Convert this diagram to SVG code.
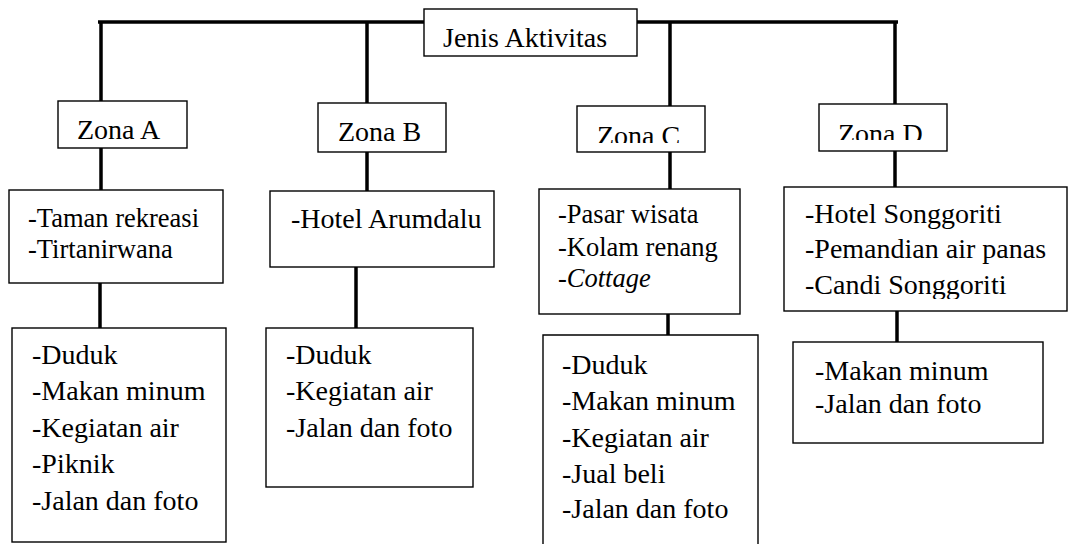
<svg xmlns="http://www.w3.org/2000/svg" width="1069" height="544" viewBox="0 0 1069 544" font-family="Liberation Serif, Times New Roman, serif">
<style>
.box{fill:#fff;stroke:#000;stroke-width:1.4}
.t{font-size:28px;fill:#000}
.s{font-size:26.5px}
.c{stroke:#000;stroke-width:3.5;fill:none}
</style>
<defs>
<clipPath id="clipC"><rect x="577" y="106" width="128" height="37"/></clipPath>
<clipPath id="clipD"><rect x="819" y="104" width="128" height="36"/></clipPath>
<clipPath id="clipD2"><rect x="784" y="187" width="283" height="112"/></clipPath>
</defs>
<rect width="1069" height="544" fill="#fff"/>
<g id="connectors">
<line class="c" x1="98" y1="22" x2="898" y2="22" stroke-width="4"/>
<line class="c" x1="101" y1="22" x2="101" y2="101"/>
<line class="c" x1="367" y1="22" x2="367" y2="103"/>
<line class="c" x1="670" y1="22" x2="670" y2="106"/>
<line class="c" x1="895" y1="22" x2="895" y2="104"/>
<line class="c" x1="101" y1="148" x2="101" y2="190"/>
<line class="c" x1="367" y1="152" x2="367" y2="191"/>
<line class="c" x1="670" y1="152" x2="670" y2="189"/>
<line class="c" x1="895" y1="151" x2="895" y2="187"/>
<line class="c" x1="100" y1="283" x2="100" y2="328"/>
<line class="c" x1="356" y1="267" x2="356" y2="328"/>
<line class="c" x1="668" y1="314" x2="668" y2="335"/>
<line class="c" x1="897" y1="311" x2="897" y2="342"/>
</g>
<g id="root">
<rect class="box" x="424" y="9" width="213" height="47"/>
<text class="t" x="443" y="47" font-size="29" font-family="Liberation Serif">Jenis Aktivitas</text>
</g>
<g id="zonaA">
<rect class="box" x="58" y="101" width="129" height="47"/>
<text class="t" x="77" y="139">Zona A</text>
</g>
<g id="zonaB">
<rect class="box" x="318" y="103" width="128" height="49"/>
<text class="t" x="338" y="141">Zona B</text>
</g>
<g id="zonaC">
<rect class="box" x="577" y="106" width="128" height="46"/>
<text class="t" x="597" y="145" clip-path="url(#clipC)">Zona C</text>
</g>
<g id="zonaD">
<rect class="box" x="819" y="104" width="128" height="47"/>
<text class="t" x="838" y="143" clip-path="url(#clipD)">Zona D</text>
</g>
<g id="lokasiA">
<rect class="box" x="9" y="190" width="214" height="93"/>
<text class="t s" x="28" y="227">-Taman rekreasi</text>
<text class="t s" x="28" y="258">-Tirtanirwana</text>
</g>
<g id="lokasiB">
<rect class="box" x="270" y="191" width="224" height="76"/>
<text class="t" x="291" y="228">-Hotel Arumdalu</text>
</g>
<g id="lokasiC">
<rect class="box" x="539" y="189" width="201" height="125"/>
<text class="t s" x="558" y="223">-Pasar wisata</text>
<text class="t s" x="558" y="256">-Kolam renang</text>
<text class="t s" x="558" y="287">-<tspan font-style="italic">Cottage</tspan></text>
</g>
<g id="lokasiD">
<rect class="box" x="784" y="187" width="283" height="124"/>
<text class="t" x="805" y="223">-Hotel Songgoriti</text>
<text class="t" x="805" y="258">-Pemandian air panas</text>
<text class="t" x="805" y="294" clip-path="url(#clipD2)">-Candi Songgoriti</text>
</g>
<g id="aktivitasA">
<rect class="box" x="12" y="328" width="214" height="214"/>
<text class="t" x="32" y="364">-Duduk</text>
<text class="t" x="32" y="400">-Makan minum</text>
<text class="t" x="32" y="437">-Kegiatan air</text>
<text class="t" x="32" y="473">-Piknik</text>
<text class="t" x="32" y="510">-Jalan dan foto</text>
</g>
<g id="aktivitasB">
<rect class="box" x="266" y="328" width="207" height="159"/>
<text class="t" x="286" y="364">-Duduk</text>
<text class="t" x="286" y="400">-Kegiatan air</text>
<text class="t" x="286" y="437">-Jalan dan foto</text>
</g>
<g id="aktivitasC">
<path class="box" d="M543 546 V335 H758 V546"/>
<text class="t" x="562" y="374">-Duduk</text>
<text class="t" x="562" y="410">-Makan minum</text>
<text class="t" x="562" y="447">-Kegiatan air</text>
<text class="t" x="562" y="483">-Jual beli</text>
<text class="t" x="562" y="518">-Jalan dan foto</text>
</g>
<g id="aktivitasD">
<rect class="box" x="793" y="342" width="250" height="101"/>
<text class="t" x="815" y="380">-Makan minum</text>
<text class="t" x="815" y="413">-Jalan dan foto</text>
</g>
</svg>
